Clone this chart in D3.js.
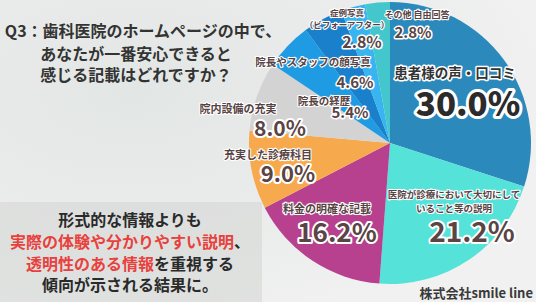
<!DOCTYPE html>
<html>
<head>
<meta charset="utf-8">
<script src="https://cdn.jsdelivr.net/npm/d3@7"></script>
<style>
  body { margin: 0; background: #eceeed; }
  svg { display: block; font-family: "Noto Sans CJK JP", "Noto Sans", sans-serif; }
</style>
</head>
<body>
<div id="chart"></div>
<script>
// answers, clockwise from 12 o'clock
var categories = [
    "患者様の声・口コミ",
    "医院が診療において大切にしていること等の説明",
    "料金の明確な記載",
    "充実した診療科目",
    "院内設備の充実",
    "院長の経歴",
    "院長やスタッフの顔写真",
    "症例写真（ビフォーアフター）",
    "その他 自由回答"
];
var values = [30.0, 21.2, 16.2, 9.0, 8.0, 5.4, 4.6, 2.8, 2.8];
// how each category label is broken on the chart
var labelLines = [
    ["患者様の声・口コミ"],
    ["医院が診療において大切にして", "いること等の説明"],
    ["料金の明確な記載"],
    ["充実した診療科目"],
    ["院内設備の充実"],
    ["院長の経歴"],
    ["院長やスタッフの顔写真"],
    ["症例写真", "（ビフォーアフター）"],
    ["その他 自由回答"]
];
var colors = ["#2b89bb", "#55e2d9", "#b8418f", "#f7aa4d", "#d3d3d3", "#1e9be2", "#1a80cc", "#38b4f0", "#43c6cc"];

var titleLines = ["Q3：歯科医院のホームページの中で、", "あなたが一番安心できると", "感じる記載はどれですか？"];
var noteLines = [
    [["形式的な情報よりも", false]],
    [["実際の体験や分かりやすい説明", true], ["、", false]],
    [["透明性のある情報", true], ["を重視する", false]],
    [["傾向が示される結果に。", false]]
];
var company = "株式会社smile line";

// label placement (layout only)
var labelLayout = [
    { nx: 455, ny: 73, ns: 13.5, px: 468, py: 104, ps: 33, lh: 0 },
    { nx: 454, ny: 195, ns: 9.5, px: 472, py: 232, ps: 28, lh: 14 },
    { nx: 327, ny: 209, ns: 11, px: 337, py: 233, ps: 26, lh: 0 },
    { nx: 268, ny: 155, ns: 11, px: 288, py: 174, ps: 22, lh: 0 },
    { nx: 238, ny: 109, ns: 11, px: 280, py: 128, ps: 21, lh: 0 },
    { nx: 324, ny: 101, ns: 10.5, px: 350, py: 113, ps: 15, lh: 0 },
    { nx: 313, ny: 62, ns: 10.5, px: 355, py: 83, ps: 15, lh: 0 },
    { nx: 347, ny: 13, ns: 8.5, px: 362, py: 42, ps: 16, lh: 12 },
    { nx: 417, ny: 15, ns: 9, px: 413, py: 33, ps: 15, lh: 0 }
];

var width = 536, height = 302;
var pieCenter = { x: 390, y: 143 };
var radius = 141;

var svg = d3.select("#chart").append("svg")
    .attr("width", width)
    .attr("height", height);

// background
var defs = svg.append("defs");
var bg = defs.append("radialGradient").attr("id", "bg")
    .attr("cx", "25%").attr("cy", "30%").attr("r", "80%");
bg.append("stop").attr("offset", "0%").attr("stop-color", "#e2e6e4");
bg.append("stop").attr("offset", "100%").attr("stop-color", "#f0f1f0");
svg.append("rect").attr("width", width).attr("height", height).attr("fill", "url(#bg)");

// note box behind the pie
svg.append("rect")
    .attr("x", 0).attr("y", 202)
    .attr("width", 262).attr("height", 100)
    .attr("fill", "#d6d7d6")
    .attr("opacity", 0.6);

// pie
var pie = d3.pie().sort(null).value(d => d);
var arc = d3.arc().innerRadius(0).outerRadius(radius);

var pieGroup = svg.append("g")
    .attr("transform", `translate(${pieCenter.x}, ${pieCenter.y})`);

pieGroup.selectAll("path")
    .data(pie(values))
    .enter()
    .append("path")
    .attr("d", arc)
    .attr("fill", (d, i) => colors[i]);

// slice labels
function halo(sel, w)
{
    return sel.attr("stroke", "#ffffff")
        .attr("stroke-width", w)
        .attr("stroke-linejoin", "round")
        .attr("paint-order", "stroke");
}

var labelGroup = svg.append("g");
values.forEach(function(v, i)
{
    var L = labelLayout[i];
    var big = i === 0;
    labelLines[i].forEach(function(line, j)
    {
        halo(labelGroup.append("text"), big ? 3 : 2.2)
            .attr("x", L.nx)
            .attr("y", L.ny + j * L.lh)
            .attr("dy", "0.36em")
            .attr("text-anchor", "middle")
            .attr("font-size", L.ns + "px")
            .attr("font-weight", big ? 700 : 600)
            .attr("fill", big ? "#333333" : "#574343")
            .text(line);
    });
    halo(labelGroup.append("text"), big ? 6 : (L.ps > 20 ? 4 : 3))
        .attr("x", L.px)
        .attr("y", L.py)
        .attr("dy", "0.36em")
        .attr("text-anchor", "middle")
        .attr("font-size", L.ps + "px")
        .attr("font-weight", big ? 900 : 700)
        .attr("fill", big ? "#2b2b2b" : "#5a4444")
        .text(v.toFixed(1) + "%");
});

// title
var titleX = [143, 136, 136];
var titleY = [31.5, 54, 75];
titleLines.forEach(function(t, i)
{
    svg.append("text")
        .attr("x", titleX[i])
        .attr("y", titleY[i])
        .attr("dy", "0.36em")
        .attr("text-anchor", "middle")
        .attr("font-size", "16px")
        .attr("font-weight", 700)
        .attr("fill", "#333333")
        .text(t);
});

// conclusion note
var noteY = [220, 242, 264, 285];
noteLines.forEach(function(parts, i)
{
    var t = svg.append("text")
        .attr("x", 130)
        .attr("y", noteY[i])
        .attr("dy", "0.36em")
        .attr("text-anchor", "middle")
        .attr("font-size", "16px")
        .attr("font-weight", 700);
    parts.forEach(function(p)
    {
        t.append("tspan")
            .attr("fill", p[1] ? "#e8413d" : "#2a2a2a")
            .text(p[0]);
    });
});

svg.append("text")
    .attr("x", 533)
    .attr("y", 293)
    .attr("dy", "0.36em")
    .attr("text-anchor", "end")
    .attr("font-size", "13px")
    .attr("font-weight", 700)
    .attr("fill", "#3a3a3a")
    .text(company);
</script>
</body>
</html>
